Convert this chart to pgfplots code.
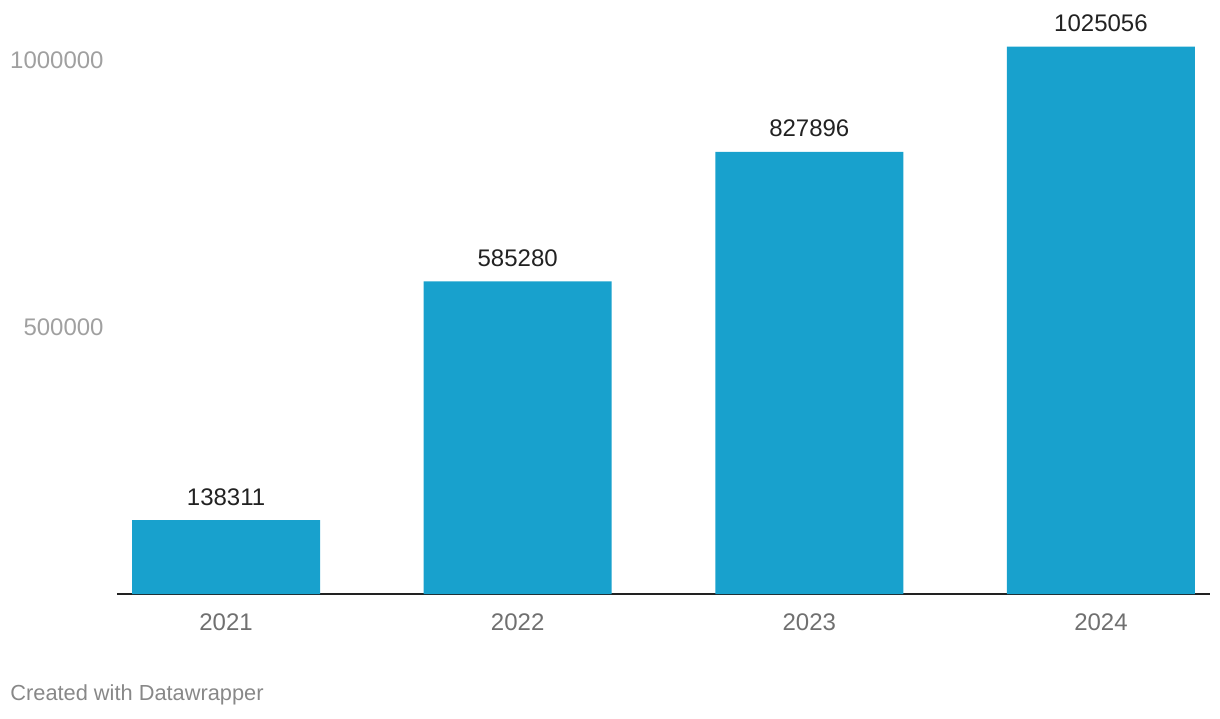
\documentclass[border=0pt]{standalone}
\usepackage{pgfplots}
\pgfplotsset{compat=1.18}
\usepackage{fontspec}
\setmainfont{Liberation Sans}

\definecolor{barblue}{RGB}{24,161,205}
\definecolor{ylab}{RGB}{160,160,160}
\definecolor{xlab}{RGB}{112,112,112}
\definecolor{vlab}{RGB}{34,34,34}
\definecolor{foot}{RGB}{136,136,136}

\begin{document}
\begin{tikzpicture}
% canvas 1220x718 px at 0.5pt per px
\useasboundingbox (0,0) rectangle (610pt,359pt);
\begin{axis}[%
  at={(58.5pt,62pt)}, anchor=south west,
  scale only axis,
  width=546.5pt, height=267pt,
  xmin=-0.374, xmax=3.374,
  ymin=0, ymax=1000000,
  axis lines=left,
  axis line style={-},
  y axis line style={draw=none},
  x axis line style={vlab, line width=1pt},
  major tick length=0pt,
  scaled y ticks=false,
  xtick={0,1,2,3},
  xticklabels={2021,2022,2023,2024},
  ytick={500000,1000000},
  yticklabels={500000,1000000},
  xticklabel style={anchor=base, inner sep=0pt, yshift=-18pt, text=xlab, font=\fontsize{12}{14}\selectfont},
  yticklabel style={anchor=east, inner sep=0pt, xshift=-6.5pt, text=ylab, font=\fontsize{12}{14}\selectfont},
  /pgf/number format/assume math mode=true,
  clip=false,
]
\addplot[ybar, bar width=0.645, fill=barblue, draw=none,
  point meta=explicit symbolic,
  nodes near coords,
  every node near coord/.append style={anchor=base, inner sep=0pt, yshift=7.5pt, text=vlab, font=\fontsize{12}{14}\selectfont},
] coordinates {
  (0,138311) [138311]
  (1,585280) [585280]
  (2,827896) [827896]
  (3,1025056) [1025056]
};
\end{axis}
\node[anchor=base west, inner sep=0pt, text=foot, font=\fontsize{10.9}{13}\selectfont] at (5pt,9pt) {Created with Datawrapper};
\end{tikzpicture}
\end{document}
